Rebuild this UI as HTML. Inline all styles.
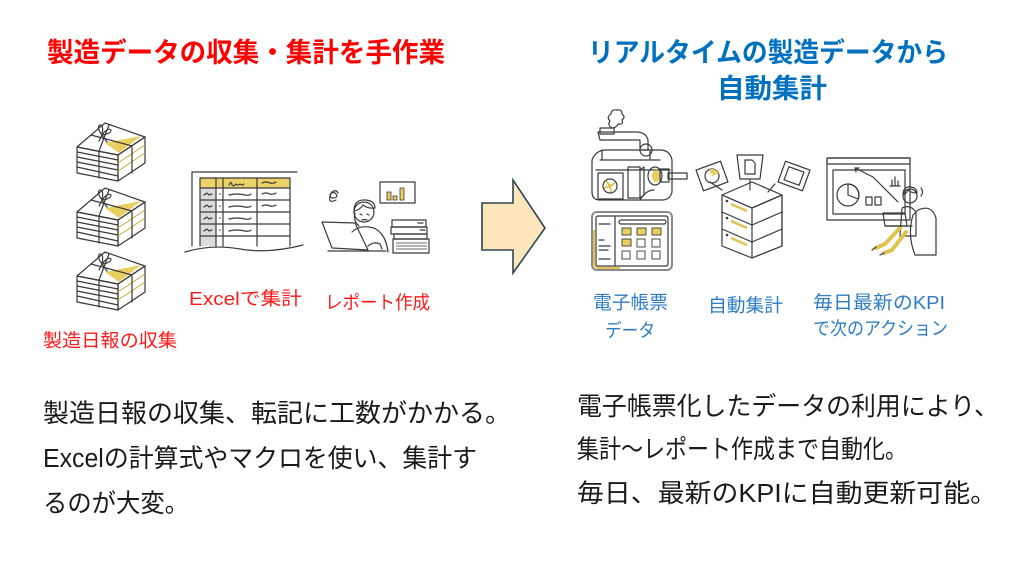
<!DOCTYPE html>
<html><head><meta charset="utf-8">
<style>
html,body{margin:0;padding:0;background:#fff;}
body{width:1024px;height:576px;overflow:hidden;}
svg{display:block;}
text{font-family:"Liberation Sans","Noto Sans CJK JP",sans-serif;}
.tl{fill:#FF0000;font-size:27px;font-weight:bold;}
.tr{fill:#0070C0;font-size:27px;font-weight:bold;}
.lr{fill:#FF1A1A;font-size:18.5px;}
.lb{fill:#2E7CC4;font-size:18.5px;}
.bd{fill:#1a1a1a;font-size:25.5px;}
.s{stroke:#3a3a3a;stroke-width:1.2;fill:none;stroke-linejoin:round;stroke-linecap:round;}
</style></head>
<body>
<svg width="1024" height="576" viewBox="0 0 1024 576" xmlns="http://www.w3.org/2000/svg">
<rect width="1024" height="576" fill="#fff"/>

<!-- Titles -->
<text class="tl" x="47" y="62" textLength="398" lengthAdjust="spacingAndGlyphs">製造データの収集・集計を手作業</text>
<text class="tr" x="588" y="62" textLength="360" lengthAdjust="spacingAndGlyphs">リアルタイムの製造データから</text>
<text class="tr" x="717" y="98" textLength="110" lengthAdjust="spacingAndGlyphs">自動集計</text>

<!-- Newspaper stacks -->
<g transform="translate(75,121)">
  <polygon points="2,26 43,34 43,60 2,52" fill="#fff" class="s"/>
  <path d="M2,31 L43,39 M2,36 L43,44 M2,41 L43,49 M2,46 L43,55" class="s" stroke-width="1"/>
  <polygon points="43,34 70,16 70,42 43,60" fill="#E9CF5F" class="s"/>
  <path d="M43,42 L70,24 M43,50 L70,32" stroke="#c9ad3c" stroke-width="1" fill="none"/>
  <polygon points="2,26 30,2 70,16 43,34" fill="#fff" class="s"/>
  <polygon points="30,22 66,15 44,32" fill="#E9CF5F"/>
  <path d="M16,14 L57,25 M34,4 L24,30 M57,25 V52 M24,30 V57" class="s"/>
  <path d="M27,14 q-6,-8 -2,-10 q4,0 2,10 q6,-8 9,-5 q0,4 -9,5 l-3,6 M27,14 l5,7" class="s" stroke-width="1"/>
</g>
<g transform="translate(75,186)">
  <polygon points="2,26 43,34 43,60 2,52" fill="#fff" class="s"/>
  <path d="M2,31 L43,39 M2,36 L43,44 M2,41 L43,49 M2,46 L43,55" class="s" stroke-width="1"/>
  <polygon points="43,34 70,16 70,42 43,60" fill="#E9CF5F" class="s"/>
  <path d="M43,42 L70,24 M43,50 L70,32" stroke="#c9ad3c" stroke-width="1" fill="none"/>
  <polygon points="2,26 30,2 70,16 43,34" fill="#fff" class="s"/>
  <polygon points="30,22 66,15 44,32" fill="#E9CF5F"/>
  <path d="M16,14 L57,25 M34,4 L24,30 M57,25 V52 M24,30 V57" class="s"/>
  <path d="M27,14 q-6,-8 -2,-10 q4,0 2,10 q6,-8 9,-5 q0,4 -9,5 l-3,6 M27,14 l5,7" class="s" stroke-width="1"/>
</g>
<g transform="translate(75,250)">
  <polygon points="2,26 43,34 43,60 2,52" fill="#fff" class="s"/>
  <path d="M2,31 L43,39 M2,36 L43,44 M2,41 L43,49 M2,46 L43,55" class="s" stroke-width="1"/>
  <polygon points="43,34 70,16 70,42 43,60" fill="#E9CF5F" class="s"/>
  <path d="M43,42 L70,24 M43,50 L70,32" stroke="#c9ad3c" stroke-width="1" fill="none"/>
  <polygon points="2,26 30,2 70,16 43,34" fill="#fff" class="s"/>
  <polygon points="30,22 66,15 44,32" fill="#E9CF5F"/>
  <path d="M16,14 L57,25 M34,4 L24,30 M57,25 V52 M24,30 V57" class="s"/>
  <path d="M27,14 q-6,-8 -2,-10 q4,0 2,10 q6,-8 9,-5 q0,4 -9,5 l-3,6 M27,14 l5,7" class="s" stroke-width="1"/>
</g>

<!-- Spreadsheet -->
<rect x="200" y="178" width="90" height="10" fill="#EBD36A"/>
<rect x="200" y="188" width="16" height="58" fill="#dcdcdc"/>
<path d="M192,246 V172 H297" class="s" stroke-width="1.5"/>
<path d="M200,178 H290 M200,188 H290 M200,200 H290 M200,212 H290 M200,224 H290 M200,236 H290" class="s"/>
<path d="M200,178 V246 M216,178 V246 M223,178 V246 M257,178 V246 M290,178 V246" class="s"/>
<path d="M185,252 Q212,244 240,249 T303,245" class="s" stroke-width="1.5"/>
<path d="M229,185 q2,-5 3,0 q2,2 4,-1 q2,2 4,0 q2,2 4,0 M262,183 q4,-2 8,0 q3,1 6,-1" class="s" stroke-width="1"/>
<path d="M229,195 q8,-2 16,0 q4,1 6,-1 M262,194 q4,-2 8,0 q3,1 6,-1 M229,207 q8,-2 16,0 q4,1 6,-1 M262,206 q4,-2 8,0 q3,1 6,-1 M229,219 q8,-2 16,0 q4,1 6,-1 M229,231 q8,-2 16,0 q4,1 6,-1" class="s" stroke-width="1"/>
<path d="M204,195 l3,-2 l2,2 l3,-1 M204,207 l3,-2 l2,2 l3,-1 M204,219 l3,-2 l2,2 l3,-1 M204,231 l3,-2 l2,2 l3,-1" class="s" stroke-width="0.9"/>
<circle cx="220" cy="194" r="0.8" fill="#333"/><circle cx="220" cy="206" r="0.8" fill="#333"/><circle cx="220" cy="218" r="0.8" fill="#333"/><circle cx="220" cy="230" r="0.8" fill="#333"/>

<!-- Person at desk -->
<rect x="380" y="182" width="35" height="21" fill="#fff" class="s"/>
<rect x="387" y="192" width="4" height="8" fill="#E9CF5F" stroke="#3a3a3a" stroke-width="0.8"/>
<rect x="393" y="196" width="4" height="4" fill="#E9CF5F" stroke="#3a3a3a" stroke-width="0.8"/>
<rect x="400" y="188" width="4" height="12" fill="#E9CF5F" stroke="#3a3a3a" stroke-width="0.8"/>
<path d="M336,200 q-8,4 -6,-4 q2,-6 6,-2 q3,4 -4,4 q-4,-2 0,-6 q4,-3 6,1" class="s"/>
<path d="M352,232 q8,-8 22,-4 q12,6 14,24" class="s" fill="#fff"/>
<circle cx="364" cy="212" r="10" fill="#fff" class="s"/>
<path d="M354,211 q0,-12 12,-11 q9,1 9,8 q-7,1 -12,-3 q-3,5 -9,6z" fill="#EBD36A" class="s"/>
<path d="M360,214 l2,1 M367,214 l2,1 M362,220 q3,-1 5,0" class="s" stroke-width="0.9"/>
<path d="M355,213 q-2,8 4,13" class="s"/>
<polygon points="322,222 355,223 368,250 332,248" fill="#dcdcdc" class="s"/>
<path d="M328,251 H386" class="s" stroke-width="2"/>
<path d="M368,246 q6,-5 12,-2 l2,5" class="s" fill="#fff"/>
<rect x="392" y="220" width="34" height="7" fill="#fff" class="s"/>
<rect x="391" y="227" width="36" height="7" fill="#fff" class="s"/>
<rect x="394" y="234" width="33" height="5" fill="#fff" class="s"/>
<rect x="393" y="239" width="36" height="14" fill="#E9CF5F" class="s"/>
<path d="M396,243 H427 M396,246 H427 M396,249 H427" stroke="#3a3a3a" stroke-width="0.7"/>
<path d="M418,223 H423 M420,230 H425" class="s"/>

<!-- Arrow -->
<polygon points="482,203 513,203 513,180 545,228 513,273 513,250 482,250" fill="#FDE6BC" stroke="#2F4654" stroke-width="1.6" stroke-linejoin="miter"/>

<!-- Machine -->
<path d="M612,128 q-5,-3 -2,-7 q-4,-4 1,-7 q0,-5 6,-4 q5,-1 5,4 q4,3 0,6 q2,5 -4,4 q-2,4 -6,4z" fill="#fff" class="s" stroke-width="1"/>
<path d="M598,132 H636 q10,0 12,8 V150 H640 V140 H600z" fill="#d6d6d6" class="s"/>
<rect x="600" y="128" width="14" height="6" fill="#ccc" class="s" stroke-width="1"/>
<path d="M592,160 q4,-10 14,-10 H660 q10,0 12,10 V192 q-2,8 -10,8 H600 q-8,0 -8,-8z" fill="#d9d9d9" class="s"/>
<path d="M600,160 H660 M596,170 H670 M602,150 v10 M650,150 v10" class="s" stroke-width="1"/>
<circle cx="646" cy="150" r="6" fill="#d0d0d0" class="s"/>
<rect x="598" y="173" width="25" height="26" fill="#fff" class="s"/>
<circle cx="610" cy="186" r="7" fill="#fff" class="s" stroke-width="1"/>
<path d="M610,186 l-4,-5 M610,186 l5,-3 M610,186 l1,6 M610,186 l-6,2" stroke="#E0C24F" stroke-width="2"/>
<rect x="628" y="167" width="12" height="31" fill="#E9CF5F" class="s"/>
<path d="M640,170 l4,-3 v28 l-4,3" fill="#cfcfcf" class="s" stroke-width="1"/>
<ellipse cx="655" cy="176" rx="7" ry="9" fill="#fff" class="s"/>
<ellipse cx="656" cy="176" rx="4" ry="6" fill="#E9CF5F"/>
<rect x="660" y="169" width="9" height="13" fill="#e0e0e0" class="s"/>
<rect x="668" y="173" width="19" height="6" fill="#E9CF5F" class="s" stroke-width="1"/>
<path d="M640,200 q6,-10 14,-10" class="s" stroke-width="1"/>

<!-- Tablet -->
<rect x="592" y="212" width="80" height="58" rx="5" fill="#fff" stroke="#8a8a8a" stroke-width="2"/>
<rect x="596" y="216" width="72" height="50" rx="2" fill="#fff" class="s" stroke-width="1"/>
<path d="M594,230 V262 q0,6 6,6 H620" stroke="#E0C24F" stroke-width="2" fill="none"/>
<path d="M615,216 V266" class="s" stroke-width="1"/>
<rect x="619" y="220" width="47" height="4" rx="2" fill="#fff" class="s" stroke-width="0.9"/>
<path d="M599,224 H610 M599,240 H604 M599,246 H610 M599,250 H608 M599,259 H610" class="s" stroke-width="1"/>
<g stroke="#3a3a3a" stroke-width="0.9">
<rect x="622" y="228" width="9" height="7" fill="#E9CF5F"/><rect x="637" y="228" width="9" height="7" fill="#E9CF5F"/><rect x="652" y="228" width="9" height="7" fill="#E9CF5F"/>
<rect x="622" y="239" width="9" height="7" fill="#E9CF5F"/><rect x="637" y="239" width="8" height="8" fill="#fff"/><rect x="652" y="239" width="8" height="8" fill="#fff"/>
<rect x="622" y="251" width="8" height="8" fill="#fff"/><rect x="637" y="251" width="8" height="8" fill="#fff"/><rect x="652" y="251" width="8" height="8" fill="#fff"/>
</g>

<!-- Server -->
<path d="M722,190 L710,182 M750,180 V190 M775,184 L768,192" class="s" stroke-width="1"/>
<g transform="rotate(-20 712 176)"><rect x="699" y="165" width="26" height="22" fill="#fff" class="s"/>
<circle cx="712" cy="176" r="7" fill="#fff" class="s" stroke-width="1"/><path d="M712,176 V169 A7,7 0 0 1 719,176z" fill="#E9CF5F"/></g>
<polygon points="737,155 763,155 760,179 740,179" fill="#E9CF5F" class="s"/>
<path d="M745,160 h7 l3,3 v11 h-10z" fill="#fff" class="s" stroke-width="1"/>
<g transform="rotate(20 794 176)"><rect x="781" y="165" width="26" height="22" fill="#fff" class="s"/>
<rect x="786" y="169" width="16" height="14" fill="#E9CF5F" class="s" stroke-width="1"/><circle cx="797" cy="173" r="2" fill="#fff"/></g>
<polygon points="722,246 752,258 782,246 782,195 752,208 722,195" fill="#fff" class="s"/>
<polygon points="752,208 782,195 782,246 752,258" fill="#d9d9d9" class="s"/>
<polygon points="722,195 752,182 782,195 752,208" fill="#fff" class="s"/>
<path d="M722,212 L752,225 L782,212 M722,229 L752,242 L782,229" class="s"/>
<path d="M731,204 L747,211 M731,221 L747,228 M731,238 L747,245" stroke="#E0C24F" stroke-width="2.5"/>
<circle cx="727" cy="201" r="1.3" fill="#3a3a3a"/><circle cx="727" cy="218" r="1.3" fill="#3a3a3a"/><circle cx="727" cy="235" r="1.3" fill="#3a3a3a"/>

<!-- Dashboard -->
<rect x="827" y="158" width="83" height="62" fill="#fff" class="s"/>
<rect x="827" y="158" width="83" height="6" fill="#E9CF5F" class="s"/>
<rect x="833" y="170" width="72" height="44" fill="#fff" class="s"/>
<circle cx="848" cy="195" r="11" fill="#E9CF5F" class="s"/>
<path d="M848,195 V184 A11,11 0 0 1 858,199z" fill="#fff" class="s" stroke-width="1"/>
<rect x="866" y="197" width="6" height="8" fill="#E9CF5F" class="s" stroke-width="1"/>
<rect x="875" y="197" width="6" height="8" fill="#E9CF5F" class="s" stroke-width="1"/>
<path d="M855,168 L873,177 L898,202 M855,168 l4,0 M855,168 l1,4" class="s" stroke-width="1"/>
<path d="M892,186 V180 M895,186 V177 M898,186 V181 M890,186 H900" class="s" stroke-width="1"/>
<path d="M918,210 q14,-6 18,8 V255 H915 q-8,-20 -2,-40z" fill="#fff" class="s"/>
<path d="M902,208 q8,-4 14,4 V236 H900z" fill="#fff" class="s"/>
<circle cx="910" cy="196" r="7" fill="#fff" class="s"/>
<path d="M903,195 q0,-9 8,-8 q6,1 6,6 q-6,0 -9,-3 q-2,4 -5,5z" fill="#E9CF5F" class="s" stroke-width="1"/>
<path d="M921,188 q3,4 0,8" class="s" stroke-width="1"/>
<path d="M900,228 L885,244 L876,248 M906,232 L892,250 L884,253" stroke="#E0C24F" stroke-width="4" fill="none" stroke-linecap="round"/>
<path d="M876,247 l-4,3 M884,253 l-4,2" class="s"/>
<polygon points="883,213 905,213 907,226 885,226" fill="#d9d9d9" class="s"/>
<path d="M885,226 H912" class="s" stroke-width="1.5"/>

<!-- Labels -->
<text class="lr" x="43" y="347" textLength="134" lengthAdjust="spacingAndGlyphs">製造日報の収集</text>
<text class="lr" x="189" y="305" textLength="113" lengthAdjust="spacingAndGlyphs">Excelで集計</text>
<text class="lr" x="325" y="309" textLength="105" lengthAdjust="spacingAndGlyphs">レポート作成</text>
<text class="lb" x="593" y="309" textLength="75" lengthAdjust="spacingAndGlyphs">電子帳票</text>
<text class="lb" x="605" y="337" textLength="50" lengthAdjust="spacingAndGlyphs">データ</text>
<text class="lb" x="708" y="312" textLength="75" lengthAdjust="spacingAndGlyphs">自動集計</text>
<text class="lb" x="813" y="309" textLength="132" lengthAdjust="spacingAndGlyphs">毎日最新のKPI</text>
<text class="lb" x="813" y="335" textLength="135" lengthAdjust="spacingAndGlyphs">で次のアクション</text>

<!-- Body text -->
<text class="bd" x="43" y="422" textLength="468" lengthAdjust="spacingAndGlyphs">製造日報の収集、転記に工数がかかる。</text>
<text class="bd" x="43" y="467" textLength="434" lengthAdjust="spacingAndGlyphs">Excelの計算式やマクロを使い、集計す</text>
<text class="bd" x="43" y="512" textLength="146" lengthAdjust="spacingAndGlyphs">るのが大変。</text>
<text class="bd" x="577" y="415" textLength="422" lengthAdjust="spacingAndGlyphs">電子帳票化したデータの利用により、</text>
<text class="bd" x="577" y="458" textLength="330" lengthAdjust="spacingAndGlyphs">集計～レポート作成まで自動化。</text>
<text class="bd" x="577" y="502" textLength="420" lengthAdjust="spacingAndGlyphs">毎日、最新のKPIに自動更新可能。</text>
</svg>
</body></html>
